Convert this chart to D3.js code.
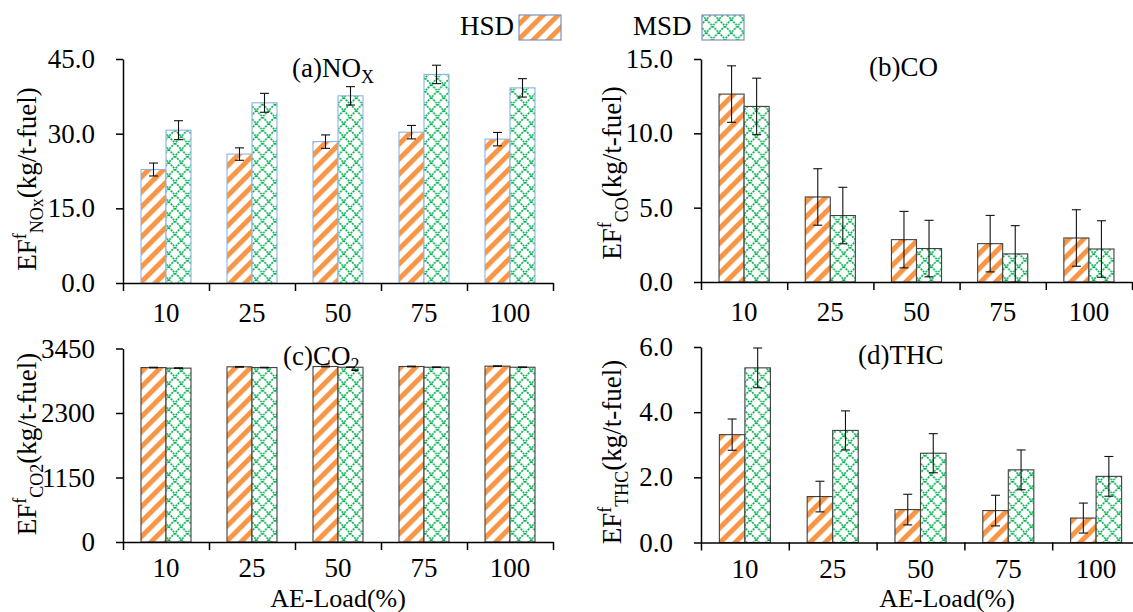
<!DOCTYPE html>
<html>
<head>
<meta charset="utf-8">
<script src="https://cdn.jsdelivr.net/npm/d3@7"></script>
<style>
  html, body { margin: 0; padding: 0; background: #fff; }
  svg { display: block; font-family: "Liberation Serif", "Times New Roman", serif; }
</style>
</head>
<body>
<svg id="chart" width="1133" height="612"></svg>
<script>
// ---------------- data ----------------
const categories = ["10", "25", "50", "75", "100"];
const seriesNames = ["HSD", "MSD"];

const noxHSD    = [22.8, 25.9, 28.4, 30.3, 28.9];
const noxHSDErr = [1.3, 1.25, 1.35, 1.35, 1.35];
const noxMSD    = [30.7, 36.2, 37.6, 41.9, 39.2];
const noxMSDErr = [1.9, 1.9, 1.85, 1.85, 1.85];

const coHSD    = [12.64, 5.72, 2.85, 2.58, 2.96];
const coHSDErr = [1.9, 1.9, 1.9, 1.9, 1.9];
const coMSD    = [11.81, 4.47, 2.25, 1.89, 2.22];
const coMSDErr = [1.9, 1.9, 1.9, 1.9, 1.9];

const co2HSD    = [3110, 3123, 3129, 3129, 3135];
const co2HSDErr = [6, 6, 6, 6, 6];
const co2MSD    = [3100, 3110, 3116, 3116, 3116];
const co2MSDErr = [5, 5, 5, 5, 5];

const thcHSD    = [3.31, 1.41, 1.01, 0.98, 0.75];
const thcHSDErr = [0.48, 0.47, 0.47, 0.47, 0.46];
const thcMSD    = [5.36, 3.44, 2.74, 2.23, 2.03];
const thcMSDErr = [0.61, 0.6, 0.6, 0.61, 0.61];

const noxTicks = [0, 15, 30, 45];
const coTicks  = [0, 5, 10, 15];
const co2Ticks = [0, 1150, 2300, 3450];
const thcTicks = [0, 2, 4, 6];

const xTitle = "AE-Load(%)";

// ---------------- style ----------------
const FONT = 27;
const ORANGE = "#f79646";
const GREEN = "#00b050";

const svg = d3.select("#chart");
const defs = svg.append("defs");

// diagonal stripe pattern (HSD)
const pH = defs.append("pattern").attr("id", "hsdPat")
  .attr("patternUnits", "userSpaceOnUse").attr("width", 10.6).attr("height", 10.6)
  .attr("patternTransform", "rotate(45)");
pH.append("rect").attr("width", 10.6).attr("height", 10.6).attr("fill", "#fff");
pH.append("rect").attr("x", 0).attr("width", 5).attr("height", 10.6).attr("fill", ORANGE);

// dotted lattice pattern (MSD)
const pM = defs.append("pattern").attr("id", "msdPat")
  .attr("patternUnits", "userSpaceOnUse").attr("width", 12.5).attr("height", 13);
pM.append("rect").attr("width", 12.5).attr("height", 13).attr("fill", "#fff");
pM.append("path").attr("d", "M0,0 L12.5,13 M12.5,0 L0,13")
  .attr("stroke", GREEN).attr("stroke-width", 1.6).attr("stroke-dasharray", "2,1").attr("fill", "none");

const fills = { HSD: "url(#hsdPat)", MSD: "url(#msdPat)" };

// ---------------- panels ----------------
const panels = [
  { left: 123, right: 553, top: 59, bottom: 283, ticks: noxTicks, fmt: ".1f",
    hsd: noxHSD, hsdErr: noxHSDErr, msd: noxMSD, msdErr: noxMSDErr,
    barStroke: "#8db3e2", title: ["(a)NO", "X"], titleX: 292, titleY: 77,
    ySub: "NOx", yLabX: 36, yLabY: 179, xTitle: false, pad: 20 },
  { left: 701, right: 1132, top: 59, bottom: 282, ticks: coTicks, fmt: ".1f",
    hsd: coHSD, hsdErr: coHSDErr, msd: coMSD, msdErr: coMSDErr,
    barStroke: "#404040", title: ["(b)CO", ""], titleX: 869, titleY: 76,
    ySub: "CO", yLabX: 621, yLabY: 173, xTitle: false, pad: 20 },
  { left: 123, right: 553, top: 348.5, bottom: 542, ticks: co2Ticks, fmt: "d",
    hsd: co2HSD, hsdErr: co2HSDErr, msd: co2MSD, msdErr: co2MSDErr,
    barStroke: "#404040", title: ["(c)CO", "2"], titleX: 283, titleY: 365,
    ySub: "CO2", yLabX: 36, yLabY: 444, xTitle: true, xTitleX: 338, pad: 16 },
  { left: 701, right: 1140, top: 347, bottom: 542.5, ticks: thcTicks, fmt: ".1f",
    hsd: thcHSD, hsdErr: thcHSDErr, msd: thcMSD, msdErr: thcMSDErr,
    barStroke: "#404040", title: ["(d)THC", ""], titleX: 858, titleY: 364,
    ySub: "THC", yLabX: 621, yLabY: 452, xTitle: true, xTitleX: 947, pad: 16 }
];

panels.forEach(p => {
  const g = svg.append("g");
  const x = d3.scaleBand().domain(categories).range([p.left, p.right]).padding(0);
  const xs = d3.scaleBand().domain(seriesNames).range([0, x.bandwidth()]).paddingInner(0).paddingOuter(0.72);
  const y = d3.scaleLinear().domain([p.ticks[0], p.ticks[p.ticks.length - 1]]).range([p.bottom, p.top]);

  const rows = [];
  categories.forEach((c, i) => {
    rows.push({ c, s: "HSD", v: p.hsd[i], e: p.hsdErr[i] });
    rows.push({ c, s: "MSD", v: p.msd[i], e: p.msdErr[i] });
  });

  // bars
  g.selectAll("rect.bar").data(rows).join("rect")
    .attr("class", "bar")
    .attr("x", d => x(d.c) + xs(d.s))
    .attr("y", d => y(d.v))
    .attr("width", xs.bandwidth())
    .attr("height", d => y(0) - y(d.v))
    .attr("fill", d => fills[d.s])
    .attr("stroke", p.barStroke)
    .attr("stroke-width", 1.1);

  // error bars
  const eg = g.selectAll("g.err").data(rows).join("g").attr("class", "err")
    .attr("stroke", "#111").attr("stroke-width", 1.1).attr("fill", "none");
  eg.append("line")
    .attr("x1", d => x(d.c) + xs(d.s) + xs.bandwidth() / 2)
    .attr("x2", d => x(d.c) + xs(d.s) + xs.bandwidth() / 2)
    .attr("y1", d => y(d.v - d.e)).attr("y2", d => y(d.v + d.e));
  [1, -1].forEach(sg => {
    eg.append("line")
      .attr("x1", d => x(d.c) + xs(d.s) + xs.bandwidth() / 2 - 4.5)
      .attr("x2", d => x(d.c) + xs(d.s) + xs.bandwidth() / 2 + 4.5)
      .attr("y1", d => y(d.v + sg * d.e)).attr("y2", d => y(d.v + sg * d.e));
  });

  // y axis
  const ya = g.append("g").attr("transform", `translate(${p.left},0)`)
    .call(d3.axisLeft(y).tickValues(p.ticks).tickFormat(d3.format(p.fmt)).tickSize(7).tickSizeOuter(0).tickPadding(21));
  // x axis boundary ticks
  const xb = d3.scaleLinear().domain([0, categories.length]).range([p.left, p.right]);
  const xa = g.append("g").attr("transform", `translate(0,${p.bottom})`)
    .call(d3.axisBottom(xb).tickValues(d3.range(categories.length + 1)).tickFormat("").tickSize(8).tickSizeOuter(0));
  // x axis category labels
  const xl = g.append("g").attr("transform", `translate(0,${p.bottom})`)
    .call(d3.axisBottom(x).tickSize(0).tickPadding(p.pad));
  xl.select(".domain").remove();

  [ya, xa, xl].forEach(a => {
    a.selectAll("path.domain").attr("stroke", "#000").attr("stroke-width", 1.5);
    a.selectAll(".tick line").attr("stroke", "#000").attr("stroke-width", 1.5);
    a.selectAll("text").attr("font-size", FONT).attr("fill", "#000")
      .attr("font-family", '"Liberation Serif", "Times New Roman", serif');
  });

  // panel title
  const t = g.append("text").attr("x", p.titleX).attr("y", p.titleY)
    .attr("font-size", FONT).attr("fill", "#000");
  t.append("tspan").text(p.title[0]);
  if (p.title[1]) t.append("tspan").attr("font-size", 18).attr("dy", 6).text(p.title[1]);

  // y label
  const yl = g.append("text")
    .attr("transform", `translate(${p.yLabX},${p.yLabY}) rotate(-90)`)
    .attr("text-anchor", "middle").attr("font-size", FONT).attr("fill", "#000");
  yl.append("tspan").text("EF");
  yl.append("tspan").attr("font-size", 18).attr("dy", -10).text("f");
  yl.append("tspan").attr("font-size", 18).attr("dy", 17).text(p.ySub);
  yl.append("tspan").attr("dy", -7).text("(kg/t-fuel)");

  if (p.xTitle) {
    g.append("text").attr("x", p.xTitleX).attr("y", 606.5)
      .attr("text-anchor", "middle").attr("font-size", 26).attr("fill", "#000")
      .text(xTitle);
  }
});

// ---------------- legend ----------------
const legend = [
  { s: "HSD", tx: 460, sx: 519 },
  { s: "MSD", tx: 633, sx: 702 }
];
const lg = svg.append("g");
legend.forEach(l => {
  lg.append("text").attr("x", l.tx).attr("y", 35).attr("font-size", FONT).attr("fill", "#000").text(l.s);
  lg.append("rect").attr("x", l.sx).attr("y", 15).attr("width", 42).attr("height", 25)
    .attr("fill", fills[l.s]).attr("stroke", "#7b93b8").attr("stroke-width", 1.2);
});
</script>
</body>
</html>
